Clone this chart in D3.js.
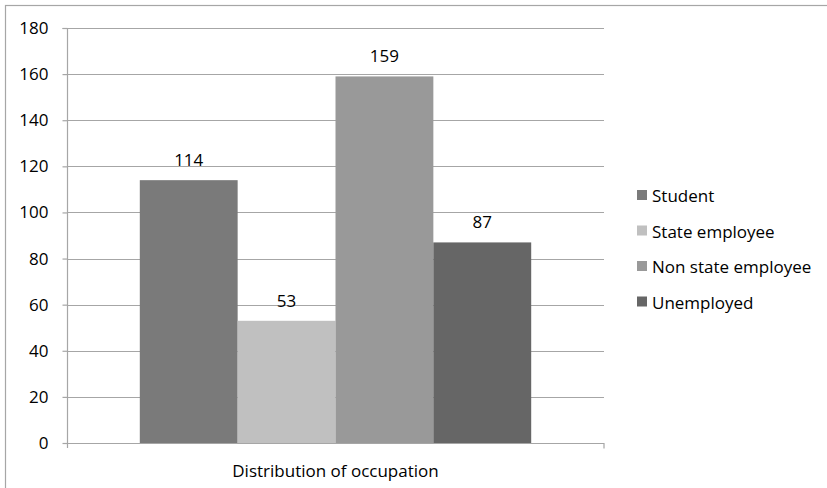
<!DOCTYPE html>
<html>
<head>
<meta charset="utf-8">
<script src="https://cdn.jsdelivr.net/npm/d3@7/dist/d3.min.js"></script>
<style>
html,body{margin:0;padding:0;background:#fff;}
svg{display:block;}
text{font-family:"Open Sans", sans-serif;fill:#000;}
</style>
</head>
<body>
<svg id="chart" width="827" height="488"></svg>
<script>
const categories = ["Distribution of occupation"];
const seriesNames = ["Student", "State employee", "Non state employee", "Unemployed"];
const seriesValues = [114, 53, 159, 87];
const seriesColors = ["#7a7a7a", "#c0c0c0", "#999999", "#666666"];
const yTicks = [0, 20, 40, 60, 80, 100, 120, 140, 160, 180];

const FONT = "'Open Sans', sans-serif";
const FS = 17;
const svg = d3.select("#chart");
const W = 827, H = 488;
const plot = {left: 67, right: 604, top: 28, bottom: 443};

// chart border
svg.append("rect")
  .attr("x", 5.5).attr("y", 5.5)
  .attr("width", W + 10).attr("height", H + 10)
  .attr("fill", "none").attr("stroke", "#a6a6a6").attr("stroke-width", 1.2);

const y = d3.scaleLinear().domain([0, 180]).range([plot.bottom, plot.top]);
const x0 = d3.scaleBand().domain(categories).range([plot.left, plot.right])
  .paddingInner(0).paddingOuter(0.186);
const x1 = d3.scaleBand().domain(seriesNames).range([0, x0.bandwidth()]).padding(0);

// gridlines
svg.append("g").selectAll("line").data(yTicks.filter(d => d > 0)).join("line")
  .attr("x1", plot.left).attr("x2", plot.right)
  .attr("y1", d => Math.round(y(d)) + 0.5).attr("y2", d => Math.round(y(d)) + 0.5)
  .attr("stroke", "#a6a6a6").attr("stroke-width", 1.2);

// bars
const gBars = svg.append("g");
seriesNames.forEach((s, i) => {
  gBars.append("rect")
    .attr("x", x0(categories[0]) + x1(s))
    .attr("y", y(seriesValues[i]))
    .attr("width", x1.bandwidth())
    .attr("height", y(0) - y(seriesValues[i]))
    .attr("fill", seriesColors[i]);
  svg.append("text")
    .attr("x", x0(categories[0]) + x1(s) + x1.bandwidth() / 2)
    .attr("y", y(seriesValues[i]) - 14)
    .attr("text-anchor", "middle")
    .attr("font-size", FS)
    .text(seriesValues[i]);
});

// y axis
const yAxis = d3.axisLeft(y).tickValues(yTicks).tickSize(5).tickPadding(14);
const gy = svg.append("g").attr("transform", `translate(${plot.left + 0.5},0)`).call(yAxis);
gy.select(".domain").attr("stroke", "#a6a6a6").attr("stroke-width", 1.2)
  .attr("d", `M-5,${plot.top + 0.5}H0V${plot.bottom + 5}`);
gy.selectAll(".tick line").attr("stroke", "#a6a6a6").attr("stroke-width", 1.2);
gy.selectAll(".tick text").attr("font-size", FS).attr("fill", "#000").style("font-family", FONT);

// x axis
const xAxis = d3.axisBottom(x0).tickSize(0).tickPadding(21);
const gx = svg.append("g").attr("transform", `translate(0,${plot.bottom + 0.5})`).call(xAxis);
gx.select(".domain").attr("stroke", "#a6a6a6").attr("stroke-width", 1.2)
  .attr("d", `M${plot.left},0H${plot.right}V5`);
gx.selectAll(".tick text").attr("font-size", FS).attr("fill", "#000").style("font-family", FONT);

// legend
const legend = svg.append("g").attr("transform", "translate(637,0)");
const legY = [202, 237.5, 273, 308.5];
seriesNames.forEach((s, i) => {
  legend.append("rect").attr("x", 0).attr("y", legY[i] - 12).attr("width", 10).attr("height", 10)
    .attr("fill", seriesColors[i]);
  legend.append("text").attr("x", 15).attr("y", legY[i]).attr("font-size", FS).text(s);
});
</script>
</body>
</html>
